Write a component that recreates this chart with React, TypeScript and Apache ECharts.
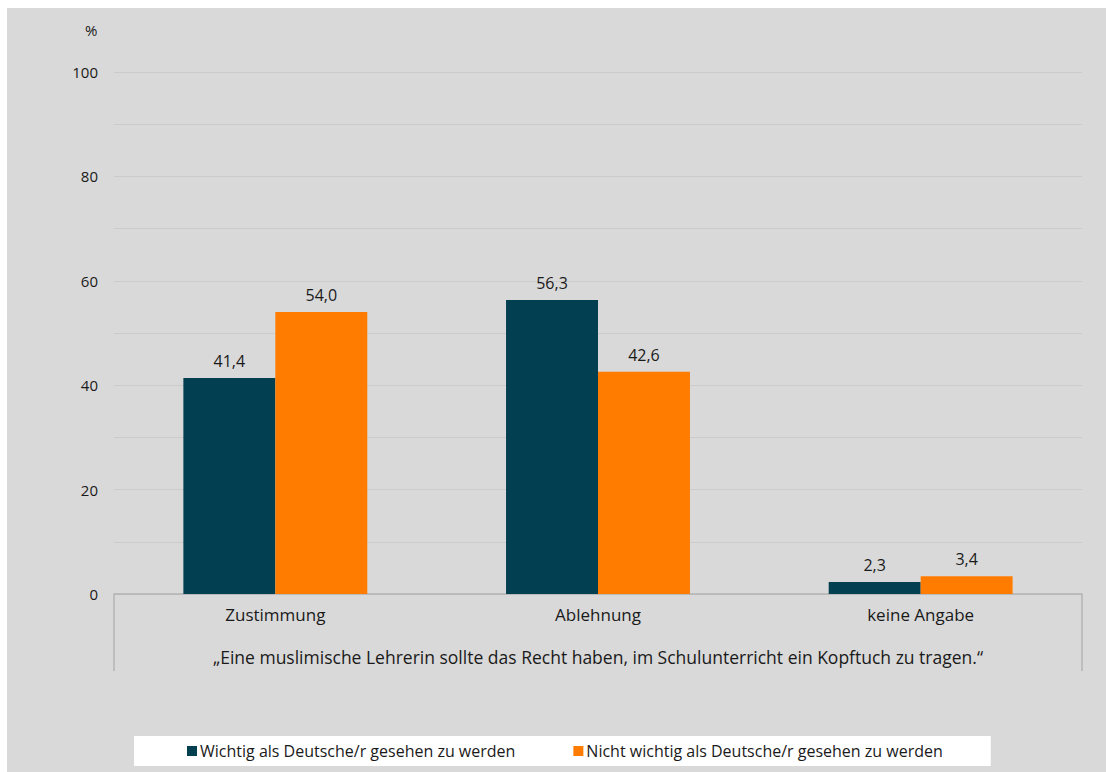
import React, { useEffect, useRef } from "react";
import * as echarts from "echarts";

const categories = ["Zustimmung", "Ablehnung", "keine Angabe"];
const groupLabel = ["„Eine muslimische Lehrerin sollte das Recht haben, im Schulunterricht ein Kopftuch zu tragen.“"];
const seriesNames = [
  "Wichtig als Deutsche/r gesehen zu werden",
  "Nicht wichtig als Deutsche/r gesehen zu werden",
];
const wichtig = [41.4, 56.3, 2.3];
const nichtWichtig = [54.0, 42.6, 3.4];
const yTicks = [0, 20, 40, 60, 80, 100];

const FONT = "'Open Sans', Lato, sans-serif";
const TXT = "#1a1a1a";

export default function App() {
  const ref = useRef<HTMLDivElement>(null);
  useEffect(() => {
    if (!ref.current) return;
    const chart = echarts.init(ref.current, null, { renderer: "svg" });
    const fmt = (p: any) => Number(p.value).toFixed(1).replace(".", ",");
    chart.setOption({
      animation: false,
      backgroundColor: "#d9d9d9",
      textStyle: { fontFamily: FONT, color: TXT },
      grid: { left: 107, right: 24, top: 64, bottom: 178, containLabel: false },
      legend: {
        bottom: 6,
        left: 127,
        backgroundColor: "#ffffff",
        padding: [7, 48, 7, 53],
        itemGap: 58,
        itemWidth: 10,
        itemHeight: 10,
        icon: "rect",
        textStyle: { fontFamily: FONT, fontSize: 16, color: TXT, padding: [0, 0, 0, -2] },
        data: seriesNames,
      },
      graphic: [
        {
          type: "text",
          left: 78,
          top: 14,
          style: { text: "%", fontFamily: FONT, fontSize: 15, fill: TXT },
        },
      ],
      xAxis: [
        {
          type: "category",
          data: categories,
          axisLine: { show: true, lineStyle: { color: "#b3b3b3", width: 1.5 } },
          axisTick: { show: false },
          axisLabel: { margin: 12, fontFamily: FONT, fontSize: 17, color: TXT },
        },
        {
          type: "category",
          data: groupLabel,
          position: "bottom",
          axisLine: { show: false },
          axisTick: { show: true, length: 77, lineStyle: { color: "#b3b3b3", width: 1.5 } },
          axisLabel: { margin: 54, fontFamily: FONT, fontSize: 17.5, color: TXT },
        },
      ],
      yAxis: {
        type: "value",
        min: 0,
        max: 100,
        interval: 10,
        axisLine: { show: false },
        axisTick: { show: false },
        splitLine: { show: true, lineStyle: { color: "#cbcbcb", width: 1 } },
        axisLabel: {
          margin: 16,
          fontFamily: FONT,
          fontSize: 15,
          color: TXT,
          formatter: (v: number) => (yTicks.includes(v) ? String(v) : ""),
        },
      },
      series: [
        {
          name: seriesNames[0],
          type: "bar",
          xAxisIndex: 0,
          data: wichtig,
          barGap: "0%",
          barCategoryGap: "43%",
          itemStyle: { color: "#023f50" },
          label: { show: true, position: "top", distance: 9, formatter: fmt, fontFamily: FONT, fontSize: 16, color: TXT },
        },
        {
          name: seriesNames[1],
          type: "bar",
          xAxisIndex: 0,
          data: nichtWichtig,
          barGap: "0%",
          barCategoryGap: "43%",
          itemStyle: { color: "#ff7c00" },
          label: { show: true, position: "top", distance: 9, formatter: fmt, fontFamily: FONT, fontSize: 16, color: TXT },
        },
      ],
    });
    return () => chart.dispose();
  }, []);
  return (
    <div
      ref={ref}
      style={{ position: "fixed", left: 7, top: 8, width: 1099, height: 764 }}
    />
  );
}
